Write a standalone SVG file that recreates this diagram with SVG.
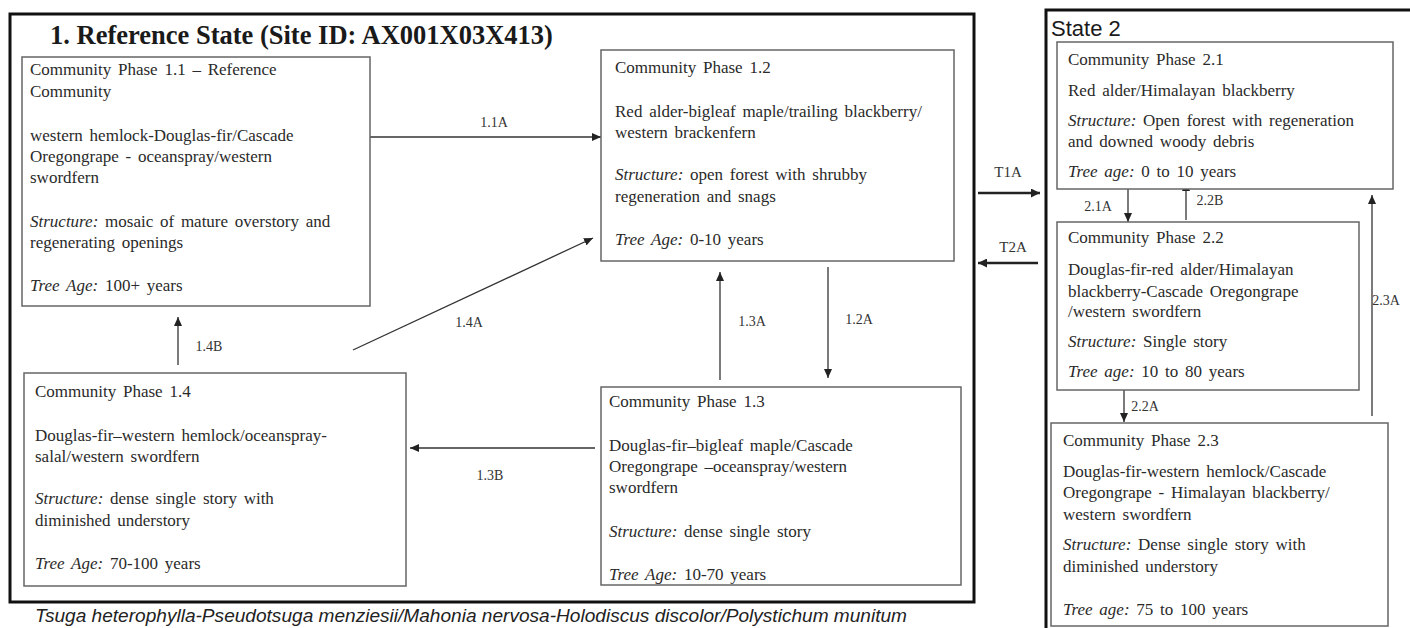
<svg xmlns="http://www.w3.org/2000/svg" width="1410" height="628" viewBox="0 0 1410 628">
<style>
.state{fill:none;stroke:#111;stroke-width:3}
.box{fill:#fff;stroke:#666;stroke-width:1.5}
.t{font-family:"Liberation Serif","Times New Roman",serif;font-size:17px;fill:#2a2a2a;word-spacing:2.5px}
.i{font-style:italic}
.lbl{font-family:"Liberation Serif","Times New Roman",serif;font-size:14px;fill:#333;text-anchor:middle}
.tl{font-size:15px}
.conn{stroke:#333;stroke-width:1.3;fill:none;marker-end:url(#ah)}
.tconn{stroke:#222;stroke-width:2.5;fill:none;marker-end:url(#aht)}
.title{font-family:"Liberation Serif","Times New Roman",serif;font-size:26.5px;font-weight:bold;fill:#1a1a1a}
.s2{font-family:"Liberation Sans",Arial,sans-serif;font-size:22px;fill:#1a1a1a}
.cap{font-family:"Liberation Sans",Arial,sans-serif;font-size:18px;font-style:italic;fill:#222}
</style>
<defs>
<marker id="ah" markerUnits="userSpaceOnUse" markerWidth="10" markerHeight="8" refX="9" refY="4" orient="auto"><path d="M0,0 L9,4 L0,8 z" fill="#222"/></marker>
<marker id="aht" markerUnits="userSpaceOnUse" markerWidth="10" markerHeight="9" refX="9" refY="4.5" orient="auto"><path d="M0,0 L9,4.5 L0,9 z" fill="#222"/></marker>
</defs>
<rect width="1410" height="628" fill="#fff"/>

<g id="state1">
<rect class="state" x="10" y="14" width="964" height="588"/>
<text class="title" x="50" y="44">1. Reference State (Site ID: AX001X03X413)</text>
</g>
<g id="state2">
<path class="state" d="M1046,640 V10 H1412"/>
<text class="s2" x="1051" y="36">State 2</text>
</g>

<g id="connectors">
<line class="conn" x1="370" y1="137" x2="601" y2="137"/>
<line class="conn" x1="353" y1="350" x2="593" y2="238"/>
<line class="conn" x1="720" y1="380" x2="720" y2="272"/>
<line class="conn" x1="828" y1="267" x2="828" y2="378"/>
<line class="conn" x1="595" y1="448" x2="410" y2="448"/>
<line class="conn" x1="178" y1="365" x2="178" y2="317"/>
<line class="tconn" x1="978" y1="193" x2="1040" y2="193"/>
<line class="tconn" x1="1038" y1="263" x2="978" y2="263"/>
<line class="conn" x1="1128" y1="189" x2="1128" y2="222"/>
<line class="conn" x1="1186" y1="220" x2="1186" y2="182"/>
<line class="conn" x1="1124" y1="390" x2="1124" y2="422"/>
<line class="conn" x1="1372" y1="416" x2="1372" y2="195"/>
<text class="lbl" x="494" y="127">1.1A</text>
<text class="lbl" x="469" y="327">1.4A</text>
<text class="lbl" x="752" y="326">1.3A</text>
<text class="lbl" x="859" y="324">1.2A</text>
<text class="lbl" x="490" y="480">1.3B</text>
<text class="lbl" x="209" y="351">1.4B</text>
<text class="lbl tl" x="1008" y="177">T1A</text>
<text class="lbl tl" x="1013" y="252">T2A</text>
<text class="lbl" x="1098" y="211">2.1A</text>
<text class="lbl" x="1210" y="205">2.2B</text>
<text class="lbl" x="1145" y="411">2.2A</text>
<text class="lbl" x="1386" y="305">2.3A</text>
</g>

<g id="cp11">
<rect class="box" x="22" y="57" width="348" height="249"/>
<text class="t" x="30" y="75">Community Phase 1.1 – Reference</text>
<text class="t" x="30" y="97">Community</text>
<text class="t" x="30" y="141">western hemlock-Douglas-fir/Cascade</text>
<text class="t" x="30" y="162">Oregongrape - oceanspray/western</text>
<text class="t" x="30" y="183">swordfern</text>
<text class="t" x="30" y="227"><tspan class="i">Structure:</tspan> mosaic of mature overstory and</text>
<text class="t" x="30" y="248">regenerating openings</text>
<text class="t" x="30" y="291"><tspan class="i">Tree Age:</tspan> 100+ years</text>
</g>

<g id="cp12">
<rect class="box" x="601" y="50" width="353" height="211"/>
<text class="t" x="615" y="73">Community Phase 1.2</text>
<text class="t" x="615" y="117">Red alder-bigleaf maple/trailing blackberry/</text>
<text class="t" x="615" y="138">western brackenfern</text>
<text class="t" x="615" y="180"><tspan class="i">Structure:</tspan> open forest with shrubby</text>
<text class="t" x="615" y="202">regeneration and snags</text>
<text class="t" x="615" y="245"><tspan class="i">Tree Age:</tspan> 0-10 years</text>
</g>

<g id="cp13">
<rect class="box" x="601" y="387" width="360" height="198"/>
<text class="t" x="609" y="407">Community Phase 1.3</text>
<text class="t" x="609" y="451">Douglas-fir–bigleaf maple/Cascade</text>
<text class="t" x="609" y="472">Oregongrape –oceanspray/western</text>
<text class="t" x="609" y="493">swordfern</text>
<text class="t" x="609" y="537"><tspan class="i">Structure:</tspan> dense single story</text>
<text class="t" x="609" y="580"><tspan class="i">Tree Age:</tspan> 10-70 years</text>
</g>

<g id="cp14">
<rect class="box" x="24" y="373" width="382" height="213"/>
<text class="t" x="35" y="397">Community Phase 1.4</text>
<text class="t" x="35" y="441">Douglas-fir–western hemlock/oceanspray-</text>
<text class="t" x="35" y="462">salal/western swordfern</text>
<text class="t" x="35" y="504"><tspan class="i">Structure:</tspan> dense single story with</text>
<text class="t" x="35" y="526">diminished understory</text>
<text class="t" x="35" y="569"><tspan class="i">Tree Age:</tspan> 70-100 years</text>
</g>

<g id="cp21">
<rect class="box" x="1057" y="42" width="336" height="147"/>
<text class="t" x="1068" y="65">Community Phase 2.1</text>
<text class="t" x="1068" y="96">Red alder/Himalayan blackberry</text>
<text class="t" x="1068" y="126"><tspan class="i">Structure:</tspan> Open forest with regeneration</text>
<text class="t" x="1068" y="147">and downed woody debris</text>
<text class="t" x="1068" y="177"><tspan class="i">Tree age:</tspan> 0 to 10 years</text>
</g>

<g id="cp22">
<rect class="box" x="1057" y="222" width="302" height="168"/>
<text class="t" x="1068" y="243">Community Phase 2.2</text>
<text class="t" x="1068" y="275">Douglas-fir-red alder/Himalayan</text>
<text class="t" x="1068" y="297">blackberry-Cascade Oregongrape</text>
<text class="t" x="1068" y="317">/western swordfern</text>
<text class="t" x="1068" y="347"><tspan class="i">Structure:</tspan> Single story</text>
<text class="t" x="1068" y="377"><tspan class="i">Tree age:</tspan> 10 to 80 years</text>
</g>

<g id="cp23">
<rect class="box" x="1051" y="423" width="337" height="203"/>
<text class="t" x="1063" y="446">Community Phase 2.3</text>
<text class="t" x="1063" y="477">Douglas-fir-western hemlock/Cascade</text>
<text class="t" x="1063" y="498">Oregongrape - Himalayan blackberry/</text>
<text class="t" x="1063" y="520">western swordfern</text>
<text class="t" x="1063" y="550"><tspan class="i">Structure:</tspan> Dense single story with</text>
<text class="t" x="1063" y="572">diminished understory</text>
<text class="t" x="1063" y="615"><tspan class="i">Tree age:</tspan> 75 to 100 years</text>
</g>

<text class="cap" x="35" y="622" textLength="872" lengthAdjust="spacingAndGlyphs">Tsuga heterophylla-Pseudotsuga menziesii/Mahonia nervosa-Holodiscus discolor/Polystichum munitum</text>
</svg>
